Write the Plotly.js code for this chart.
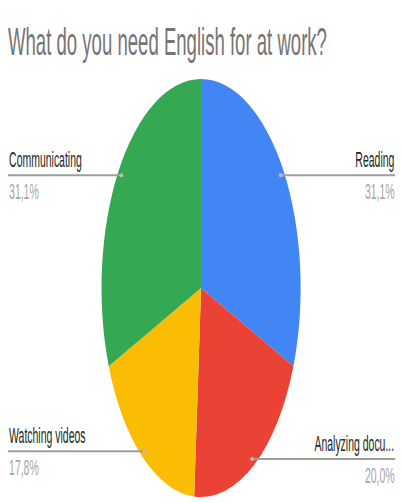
<!DOCTYPE html>
<html>
<head>
<meta charset="utf-8">
<script src="https://cdn.plot.ly/plotly-3.0.1.min.js"></script>
<style>
  html, body { margin: 0; padding: 0; overflow: hidden; background: #fff; }
  #wrap { width: 403px; height: 503px; overflow: hidden; position: relative; }
  #chart { position: absolute; left: 0; top: 0; transform-origin: 0 0; }
</style>
</head>
<body>
<div id="wrap"><div id="chart"></div></div>
<script>
// ---- data ----
const titleText = 'What do you need English for at work?';
const categories = ['Reading', 'Analyzing docu...', 'Watching videos', 'Communicating'];
const values = [31.1, 20.0, 17.8, 31.1];
const percentLabels = ['31,1%', '20,0%', '17,8%', '31,1%'];
const colors = ['#4285F4', '#EA4335', '#FBBC04', '#34A853'];

// ---- layout geometry (drawn wide, then squeezed horizontally like the reference) ----
const OUT_W = 403, H = 503;
const K = 2.1;                       // horizontal squeeze factor of the reference
const W = Math.round(OUT_W * K);     // 846
const cx = 201 * K, cy = 288, r = 209;
const leftEdge = 8 * K, rightEdge = 395 * K;

const px = x => x / W;
const py = y => 1 - y / H;

const total = values.reduce((a, b) => a + b, 0);
const shapes = [], annotations = [];
let cum = 0;
values.forEach((v, i) => {
  const a = (cum + v / 2) / total * 2 * Math.PI;
  cum += v;
  const f = 0.965;
  const x0 = cx + f * r * Math.sin(a);
  const y0 = cy - f * r * Math.cos(a);
  const right = Math.sin(a) > 0;
  const xEnd = right ? rightEdge : leftEdge;
  shapes.push({type: 'line', xref: 'paper', yref: 'paper',
    x0: px(x0), y0: py(y0), x1: px(xEnd), y1: py(y0),
    line: {color: '#9e9e9e', width: 2}});
  shapes.push({type: 'circle', xref: 'paper', yref: 'paper',
    x0: px(x0 - 4), x1: px(x0 + 4), y0: py(y0 - 2), y1: py(y0 + 2),
    fillcolor: '#bdbdbd', line: {width: 0}});
  annotations.push({xref: 'paper', yref: 'paper', x: px(xEnd), y: py(y0 - 1),
    xanchor: right ? 'right' : 'left', yanchor: 'bottom', showarrow: false,
    text: categories[i], font: {size: 22, color: '#262626'}});
  annotations.push({xref: 'paper', yref: 'paper', x: px(xEnd), y: py(y0 + 2),
    xanchor: right ? 'right' : 'left', yanchor: 'top', showarrow: false,
    text: percentLabels[i], font: {size: 22, color: '#a6a6a6'}});
});

const trace = {
  type: 'pie',
  labels: categories,
  values: values,
  marker: {colors: colors, line: {width: 0}},
  sort: false,
  direction: 'clockwise',
  rotation: 0,
  textinfo: 'none',
  hoverinfo: 'label+percent',
  showlegend: false,
  domain: {x: [px(cx - r), px(cx + r)], y: [py(cy + r), py(cy - r)]}
};

const layout = {
  width: W, height: H,
  margin: {l: 0, r: 0, t: 0, b: 0},
  paper_bgcolor: '#ffffff',
  font: {family: 'Liberation Sans, Arial, sans-serif'},
  title: {text: titleText, x: 8 * K / W, xanchor: 'left', xref: 'paper',
          y: 1 - 41 / H, yanchor: 'middle', yref: 'container',
          font: {size: 39, color: '#757575', family: 'Liberation Sans, Arial, sans-serif'}},
  shapes: shapes,
  annotations: annotations,
  showlegend: false
};

const el = document.getElementById('chart');
el.style.width = W + 'px';
el.style.height = H + 'px';
el.style.transform = 'scaleX(' + (OUT_W / W) + ')';
Plotly.newPlot(el, [trace], layout, {displayModeBar: false, staticPlot: true});
</script>
</body>
</html>
